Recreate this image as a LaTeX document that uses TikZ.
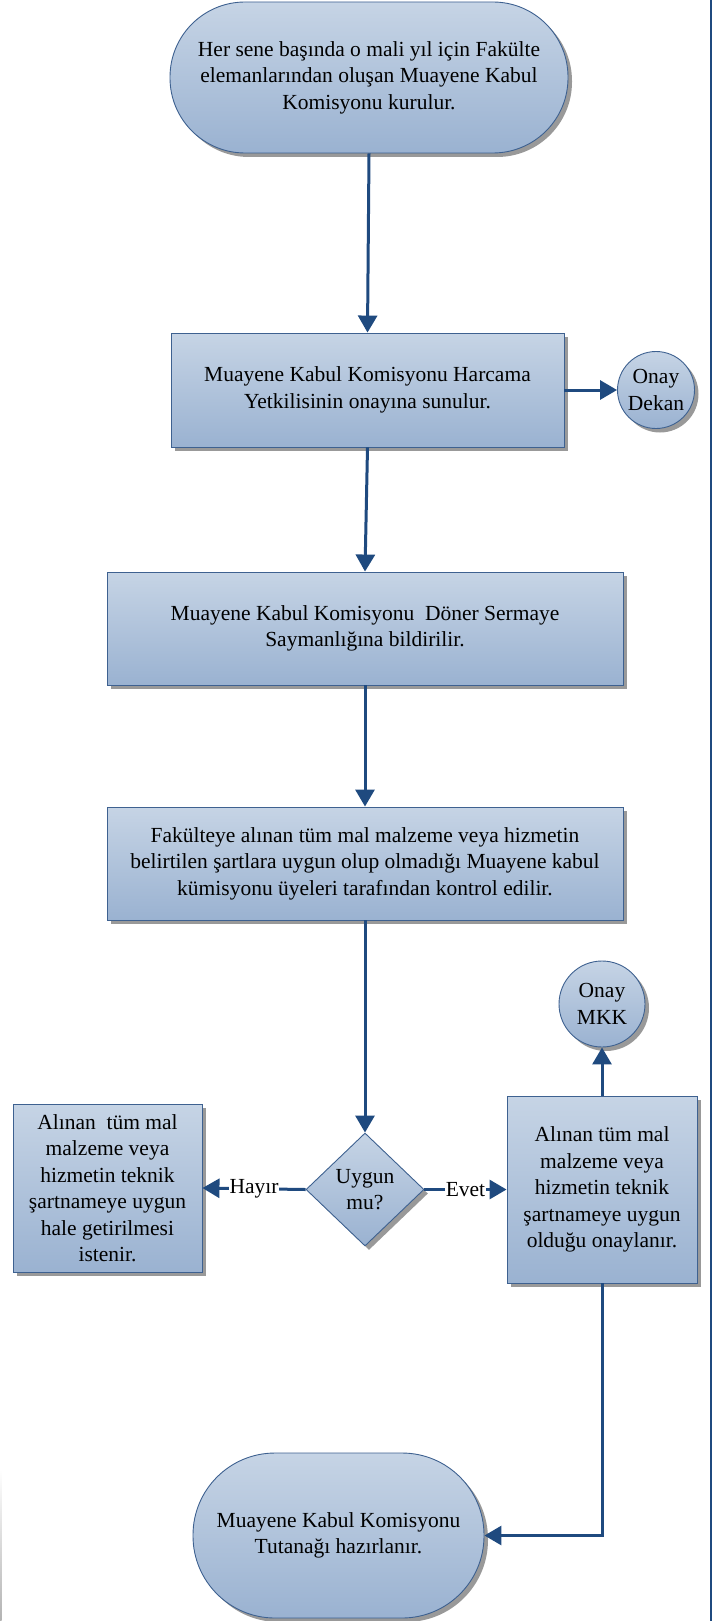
\documentclass[tikz,border=0pt]{standalone}
\usepackage{fontspec}
\setmainfont{Liberation Serif}
\usetikzlibrary{arrows.meta,shapes.geometric,shadows}
\definecolor{flowline}{HTML}{1F4A7F}
\definecolor{edgeblue}{HTML}{3E6190}
\definecolor{filltop}{HTML}{C6D4E5}
\definecolor{fillbot}{HTML}{9AB2D1}
\tikzset{
  base/.style={draw=edgeblue, line width=0.9pt, top color=filltop, bottom color=fillbot,
    drop shadow={shadow xshift=4pt, shadow yshift=-4pt, fill=black!40, opacity=1},
    inner sep=0pt, align=center, font=\fontsize{21.5}{26.5}\selectfont, text=black},
  stepbox/.style={base, rectangle},
  terminal/.style={base, rectangle, rounded corners=#1},
  approval/.style={base, circle},
  decision/.style={base, diamond},
  flow/.style={draw=flowline, line width=3pt, -{Triangle[length=17pt,width=19pt]}},
  lbl/.style={fill=white, inner sep=1pt, font=\fontsize{21.5}{26.5}\selectfont},
}
\begin{document}
\begin{tikzpicture}[x=1pt, y=-1pt]
\useasboundingbox (0,0) rectangle (714,1621);

% page rules
\draw[flowline, line width=2.5pt] (711,0) -- (711,1621);
\shade[top color=white, bottom color=black!30] (0,1470) rectangle (1.5,1621);

% process nodes
\node[terminal=75pt, minimum width=398pt, minimum height=151pt] (start) at (369,77.5)
  {Her sene başında o mali yıl için Fakülte\\elemanlarından oluşan Muayene Kabul\\Komisyonu kurulur.};
\node[stepbox, minimum width=393pt, minimum height=114pt] (b2) at (367.5,390)
  {Muayene Kabul Komisyonu Harcama\\Yetkilisinin onayına sunulur.};
\node[approval, minimum size=77pt] (dekan) at (656,390) {Onay\\Dekan};
\node[stepbox, minimum width=516pt, minimum height=113pt] (b3) at (365,628.5)
  {Muayene Kabul Komisyonu\ \ Döner Sermaye\\Saymanlığına bildirilir.};
\node[stepbox, minimum width=516pt, minimum height=113pt] (b4) at (365,863.5)
  {Fakülteye alınan tüm mal malzeme veya hizmetin\\belirtilen şartlara uygun olup olmadığı Muayene kabul\\kümisyonu üyeleri tarafından kontrol edilir.};
\node[decision, minimum width=118pt, minimum height=113pt] (dec) at (365,1189.5) {Uygun\\mu?};
\node[stepbox, minimum width=189pt, minimum height=168pt] (lbox) at (107.5,1188)
  {Alınan\ \ tüm mal\\malzeme veya\\hizmetin teknik\\şartnameye uygun\\hale getirilmesi\\istenir.};
\node[stepbox, minimum width=190pt, minimum height=187pt] (rbox) at (602,1189.5)
  {Alınan tüm mal\\malzeme veya\\hizmetin teknik\\şartnameye uygun\\olduğu onaylanır.};
\node[approval, minimum size=86pt] (mkk) at (602,1004) {Onay\\MKK};
\node[terminal=82pt, minimum width=291pt, minimum height=165pt] (end) at (338.5,1535.5)
  {Muayene Kabul Komisyonu\\Tutanağı hazırlanır.};

% connectors
\draw[flow] (start.south) -- (b2.north);
\draw[flow] (b2.east) -- (dekan.west);
\draw[flow] (b2.south) -- (b3.north);
\draw[flow] (b3.south) -- (b4.north);
\draw[flow] (b4.south) -- (dec.north);
\draw[flow] (dec.west) -- node[lbl] {Hayır} (lbox.east);
\draw[flow] (dec.east) -- node[lbl] {Evet} (rbox.west);
\draw[flow] (rbox.north) -- (mkk.south);
\draw[flow] (rbox.south) |- (end.east);
\end{tikzpicture}
\end{document}
